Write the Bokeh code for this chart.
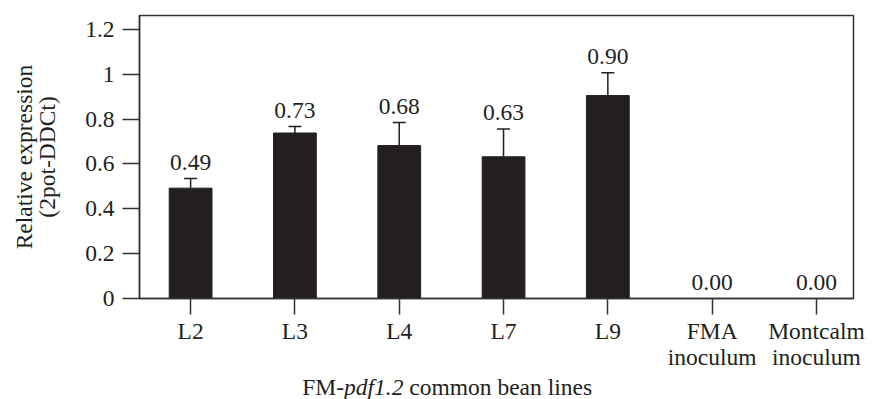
from bokeh.plotting import figure
from bokeh.layouts import column
from bokeh.models import Range1d, FixedTicker, ColumnDataSource, Whisker
from bokeh.embed import file_html
from bokeh.resources import INLINE
from bokeh.core.properties import value

# ---- data ----
categories = ["L2", "L3", "L4", "L7", "L9", "FMA\ninoculum", "Montcalm\ninoculum"]
expression = [0.492, 0.738, 0.682, 0.632, 0.905, 0.0, 0.0]
error_up = [0.043, 0.029, 0.103, 0.124, 0.102, 0.0, 0.0]
value_labels = ["0.49", "0.73", "0.68", "0.63", "0.90", "0.00", "0.00"]
y_ticks = [0, 0.2, 0.4, 0.6, 0.8, 1.0, 1.2]
y_tick_labels = ["0", "0.2", "0.4", "0.6", "0.8", "1", "1.2"]
title_parts = ["FM-", "pdf1.2", "common bean lines"]
title_styles = ["normal", "italic", "normal"]

FONT = "Liberation Serif"
FS = "23.5px"
INK = "#231f20"
LINE = "#333333"

xs = list(range(len(categories)))
tops = [v + e for v, e in zip(expression, error_up)]

xr = Range1d(-0.49, 6.355)
p = figure(width=879, height=372, output_backend="svg", toolbar_location=None,
           x_range=xr, y_range=Range1d(0, 1.262),
           min_border_left=139, min_border_right=26, min_border_top=15, min_border_bottom=72)
p.background_fill_color = "white"
p.border_fill_color = "white"
p.outline_line_color = LINE
p.outline_line_width = 1.5
p.xgrid.visible = False
p.ygrid.visible = False

src = ColumnDataSource(dict(x=xs, y=expression, top=tops, lab=value_labels))
p.vbar(x="x", top="y", width=0.41, bottom=0, source=src, fill_color=INK, line_color=INK)

# error bars (upper only), only where present
eb = ColumnDataSource(dict(x=[x for x, e in zip(xs, error_up) if e > 0],
                           lower=[v for v, e in zip(expression, error_up) if e > 0],
                           upper=[v + e for v, e in zip(expression, error_up) if e > 0]))
w = Whisker(base="x", lower="lower", upper="upper", source=eb, dimension="height",
            line_color=INK, line_width=1.5, lower_head=None)
w.upper_head.size = 13
w.upper_head.line_color = INK
w.upper_head.line_width = 1.5
p.add_layout(w)

p.text(x="x", y="top", text="lab", source=src, text_font=value(FONT), text_font_size=FS,
       text_color=INK, text_align="center", text_baseline="alphabetic", y_offset=-16)

# axes
xa = p.xaxis[0]
xa.ticker = FixedTicker(ticks=xs)
xa.major_label_overrides = {i: c for i, c in zip(xs, categories)}
xa.major_tick_out = 16
xa.major_tick_in = 0
xa.minor_tick_line_color = None
xa.axis_line_color = LINE
xa.axis_line_width = 1.5
xa.major_tick_line_color = LINE
xa.major_tick_line_width = 1.5
xa.major_label_text_font = FONT
xa.major_label_text_font_size = FS
xa.major_label_text_color = INK
xa.major_label_text_line_height = 1.0
xa.major_label_standoff = 3

ya = p.yaxis[0]
ya.ticker = FixedTicker(ticks=y_ticks)
ya.major_label_overrides = {t: l for t, l in zip(y_ticks, y_tick_labels)}
ya.major_tick_out = 17
ya.major_tick_in = 0
ya.minor_tick_line_color = None
ya.axis_line_color = LINE
ya.axis_line_width = 1.5
ya.major_tick_line_color = LINE
ya.major_tick_line_width = 1.5
ya.major_label_text_font = FONT
ya.major_label_text_font_size = FS
ya.major_label_text_color = INK
ya.major_label_standoff = 8
ya.axis_label = "Relative expression\n(2pot-DDCt)"
ya.axis_label_text_font = FONT
ya.axis_label_text_font_size = FS
ya.axis_label_text_font_style = "normal"
ya.axis_label_text_color = INK
ya.axis_label_text_line_height = 0.9
ya.axis_label_standoff = 22

# x axis title (mixed upright / italic) in a thin strip below, sharing the x scale
t = figure(width=879, height=27, output_backend="svg", toolbar_location=None,
           x_range=xr, y_range=Range1d(0, 27),
           x_axis_location=None, y_axis_location=None,
           min_border_left=139, min_border_right=26, min_border_top=0, min_border_bottom=0)
t.grid.visible = False
t.outline_line_color = None
t.background_fill_color = "white"
t.border_fill_color = "white"
offsets = [0, 41.8, 107.1]
for txt, style, off in zip(title_parts, title_styles, offsets):
    t.text(x=[1.07], y=[13], text=[txt], x_offset=off, text_font=value(FONT), text_font_size=FS,
           text_font_style=style, text_color=INK, text_align="left", text_baseline="alphabetic")

layout = column(p, t, spacing=0)
open("out.html", "w").write(file_html(layout, INLINE))
